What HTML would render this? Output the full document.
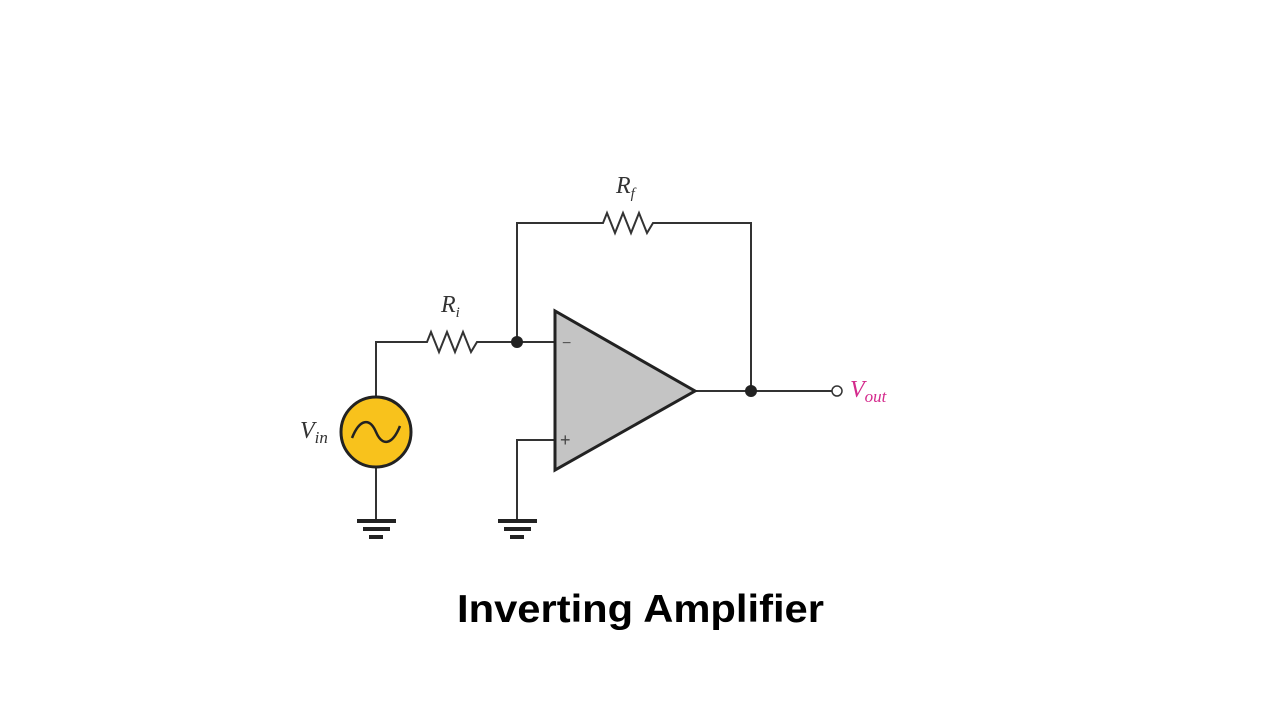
<!DOCTYPE html>
<html><head><style>body{margin:0;background:#fff}</style></head><body>
<svg width="1280" height="720" xmlns="http://www.w3.org/2000/svg">
<g stroke="#333" stroke-width="2" fill="none">
<polyline points="376,397 376,342 427,342 431,332 439,352 447,332 455,352 463,332 471,352 477,342 555,342"/>
<polyline points="517,342 517,223 603,223 607,213 615,233 623,213 631,233 639,213 647,233 653,223 751,223 751,391"/>
<line x1="695" y1="391" x2="832" y2="391"/>
<polyline points="555,440 517,440 517,520"/>
<line x1="376" y1="467" x2="376" y2="520"/>
</g>
<polygon points="555,311 555,470 695,391" fill="#c4c4c4" stroke="#222" stroke-width="3"/>
<text x="562" y="348" font-family="Liberation Sans,sans-serif" font-size="16" fill="#555">−</text>
<text x="560" y="446" font-family="Liberation Sans,sans-serif" font-size="18" fill="#444">+</text>
<circle cx="517" cy="342" r="6" fill="#222"/>
<circle cx="751" cy="391" r="6" fill="#222"/>
<circle cx="837" cy="391" r="5" fill="#fff" stroke="#333" stroke-width="1.5"/>
<circle cx="376" cy="432" r="35" fill="#f8c21c" stroke="#222" stroke-width="3"/>
<path d="M352,438 C360,418 370,418 376,432 C382,446 392,446 400,426" stroke="#222" stroke-width="2.5" fill="none"/>
<g fill="#222">
<rect x="357" y="519" width="39" height="4"/><rect x="363" y="527" width="27" height="4"/><rect x="369" y="535" width="14" height="4"/>
<rect x="498" y="519" width="39" height="4"/><rect x="504" y="527" width="27" height="4"/><rect x="510" y="535" width="14" height="4"/>
</g>
<g font-family="Liberation Serif,serif" font-style="italic" fill="#333">
<text x="616" y="193" font-size="24">R<tspan font-size="15" dy="5">f</tspan></text>
<text x="441" y="312" font-size="24">R<tspan font-size="15" dy="5">i</tspan></text>
<text x="300" y="438" font-size="24">V<tspan font-size="17" dy="5">in</tspan></text>
<text x="850" y="397" font-size="24" fill="#d42a8c">V<tspan font-size="17" dy="5">out</tspan></text>
</g>
<text x="457" y="622" textLength="367" lengthAdjust="spacingAndGlyphs" font-family="Liberation Sans,sans-serif" font-weight="bold" font-size="39" fill="#000">Inverting Amplifier</text>
</svg>
</body></html>
